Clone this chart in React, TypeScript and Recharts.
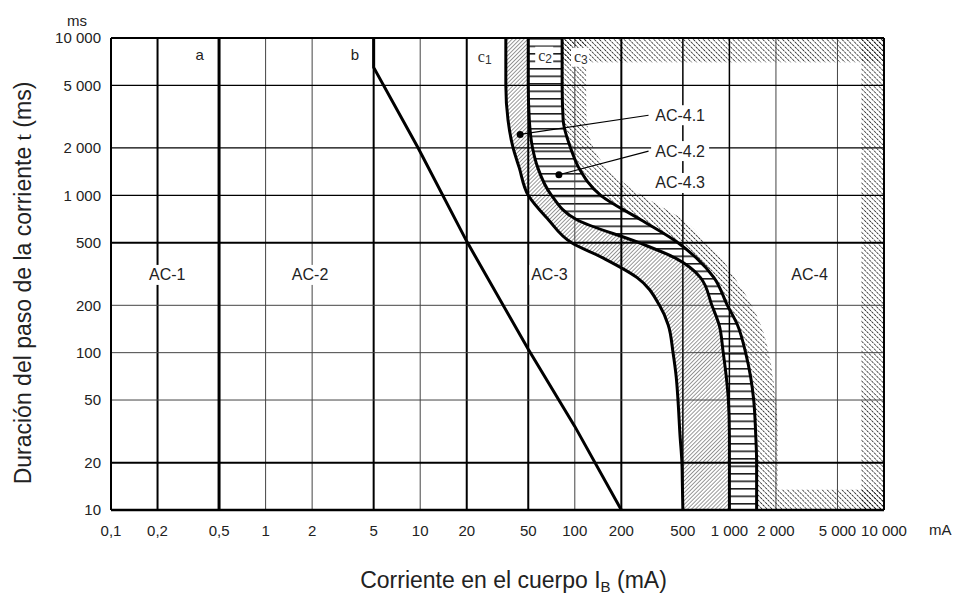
import React from "react";
import {
  ComposedChart,
  XAxis,
  YAxis,
  Line,
  Area,
  ReferenceLine,
  ReferenceArea,
  ReferenceDot,
} from "recharts";

const FONT = "'Liberation Sans', Arial, sans-serif";

// axis ticks (mA / ms)
const currentTicks = [0.1, 0.2, 0.5, 1, 2, 5, 10, 20, 50, 100, 200, 500, 1000, 2000, 5000, 10000];
const timeTicks = [10, 20, 50, 100, 200, 500, 1000, 2000, 5000, 10000];

// curves c1 / c2 / c3 read at these durations (ms)
const times = [10000, 7000, 5000, 3000, 2000, 1500, 1000, 700, 500, 400, 300, 200, 150, 100, 70, 50, 30, 20, 15, 10];
const c1Current = [35.8, 35.8, 35.8, 37, 39.9, 43.7, 50, 67.5, 95.4, 152, 253, 353, 402, 432, 453, 465, 479, 493, 496, 500];
const c2Current = [50, 50, 50, 50.8, 53.3, 57.6, 70.7, 103, 260, 445, 650, 770, 858, 912, 955, 985, 1000, 1000, 1000, 1000];
const c3Current = [82.8, 82.8, 82.8, 84.1, 93.9, 106, 147, 267, 465, 611, 794, 970, 1128, 1273, 1372, 1436, 1480, 1500, 1500, 1500];
// outer edge of the AC-4.3 hatching
const ac43Edge = [118.5, 118.5, 118.5, 120, 132, 161, 271, 500, 713, 884, 1078, 1393, 1595, 1800, 1912, 2000, 2058, 2058, 2058, 2058];

// line b
const bTime = [10000, 6500, 2000, 510, 105, 34, 10];
const bCurrent = [5, 5, 9.7, 20, 50, 100, 200];

// hatched frame of the AC-4 zone
const frameTopTime = 7000;
const frameRightCurrent = 7100;
const frameBottomTime = 13.5;

// zone names
const zoneNames = ["AC-1", "AC-2", "AC-3", "AC-4"];
const zoneCurrent = [0.231, 1.94, 68.5, 3300];
const zoneTime = 312;

// AC-4.x call-outs
const subNames = ["AC-4.1", "AC-4.2", "AC-4.3"];
const subTime = [3230, 1911, 1198];
const subCurrent = 480;
const lead41Time = [2440, 3230];
const lead41Current = [44.3, 300];
const lead42Time = [1352, 1911];
const lead42Current = [78.9, 300];

const curveRows = times.map((t, i) => ({
  t,
  c1: c1Current[i],
  c2: c2Current[i],
  c3: c3Current[i],
  edge: ac43Edge[i],
}));
const bRows = bTime.map((t, i) => ({ t, v: bCurrent[i] }));
const lead41Rows = lead41Time.map((t, i) => ({ t, v: lead41Current[i] }));
const lead42Rows = lead42Time.map((t, i) => ({ t, v: lead42Current[i] }));

const vWidth: Record<number, number> = { 0.2: 2, 1: 1, 2: 1, 5: 2, 10: 1, 20: 2, 50: 2, 100: 1, 200: 2, 500: 1.5, 1000: 1.5, 2000: 1, 5000: 1 };
const hWidth: Record<number, number> = { 20: 2, 50: 1, 100: 1, 200: 1, 500: 2, 1000: 1.3, 2000: 1.3, 5000: 1.3 };

const fmt = (v: number) =>
  v < 1 ? String(v).replace(".", ",") : String(v).replace(/\B(?=(\d{3})+(?!\d))/g, " ");

const Tag = ({ cx, cy, text }: any) => {
  const w = text.length * 9 + 4;
  return (
    <g>
      <rect x={cx - w / 2} y={cy - 10} width={w} height={20} fill="#fff" />
      <text x={cx} y={cy} textAnchor="middle" dominantBaseline="central" fontSize={16} fill="#222" fontFamily={FONT}>
        {text}
      </text>
    </g>
  );
};

const CLabel = ({ cx, cy, n, box }: any) => (
  <g>
    {box && <rect x={cx - 9} y={cy - 10} width={18} height={19} fill="#fff" />}
    <text x={cx - 6} y={cy + 4} fontSize={16} fill="#333">
      <tspan fontFamily="'Liberation Serif', serif">c</tspan>
      <tspan fontFamily={FONT} fontSize={12} dy={2}>{n}</tspan>
    </text>
  </g>
);

const YTitle = ({ viewBox }: any) => {
  const { x, y, height } = viewBox;
  return (
    <g fontFamily={FONT} fill="#222">
      <text x={x + 69} y={y - 18} textAnchor="middle" dominantBaseline="central" fontSize={15}>
        ms
      </text>
      <text
        transform={`translate(${x + 23}, ${y + height / 2 + 9}) rotate(-90)`}
        textAnchor="middle"
        fontSize={23}
      >
        Duración del paso de la corriente <tspan fontFamily="'Liberation Serif', serif">t</tspan> (ms)
      </text>
    </g>
  );
};

const XTitle = ({ viewBox }: any) => {
  const { x, y, width } = viewBox;
  return (
    <g fontFamily={FONT} fill="#222">
      <text x={x + width + 45} y={y + 25} fontSize={15}>
        mA
      </text>
      <text x={x + width / 2 + 16} y={y + 78} textAnchor="middle" fontSize={23}>
        Corriente en el cuerpo I
        <tspan fontSize={15} dy={4}>B</tspan>
        <tspan dy={-4}> (mA)</tspan>
      </text>
    </g>
  );
};

export default function App() {
  return (
    <div style={{ fontFamily: FONT }}>
      <ComposedChart
        width={944}
        height={587}
        layout="vertical"
        data={curveRows}
        margin={{ top: 30, right: 68, bottom: 55, left: 0 }}
      >
        <defs>
          <pattern id="hatchA" width="2.8" height="2.8" patternUnits="userSpaceOnUse" patternTransform="rotate(45)">
            <line x1="0" y1="0" x2="0" y2="2.8" stroke="#000" strokeWidth="0.8" />
          </pattern>
          <pattern id="hatchC" width="3.5" height="3.5" patternUnits="userSpaceOnUse" patternTransform="rotate(-45)">
            <line x1="0" y1="0" x2="0" y2="3.5" stroke="#000" strokeWidth="1.35" strokeDasharray="2 0.8" />
          </pattern>
          <pattern id="stripes" width="8" height="7.5" patternUnits="userSpaceOnUse">
            <line x1="0" y1="0.8" x2="8" y2="0.8" stroke="#000" strokeWidth="1.4" />
          </pattern>
        </defs>

        <XAxis
          type="number"
          scale="log"
          domain={[0.1, 10000]}
          allowDataOverflow
          ticks={currentTicks}
          tickFormatter={fmt}
          axisLine={false}
          tickLine={false}
          tickSize={0}
          tickMargin={15}
          height={30}
          tick={{ fontSize: 15, fill: "#222" }}
          label={<XTitle />}
        />
        <YAxis
          type="number"
          dataKey="t"
          scale="log"
          domain={[10, 10000]}
          reversed
          allowDataOverflow
          ticks={timeTicks}
          tickFormatter={fmt}
          axisLine={false}
          tickLine={false}
          tickSize={0}
          tickMargin={10}
          width={103}
          tick={{ fontSize: 15, fill: "#222" }}
          label={<YTitle />}
        />

        {currentTicks.slice(1, -1).map((v) => (
          <ReferenceLine key={"v" + v} x={v} stroke={vWidth[v] > 1 ? "#000" : "#444"} strokeWidth={vWidth[v]} />
        ))}
        {timeTicks.slice(1, -1).map((v) => (
          <ReferenceLine key={"h" + v} y={v} stroke={hWidth[v] > 1 ? "#000" : "#444"} strokeWidth={hWidth[v]} />
        ))}

        <ReferenceArea x1={c3Current[0]} x2={10000} y1={frameTopTime} y2={10000} fill="url(#hatchC)" fillOpacity={1} stroke="none" />
        <ReferenceArea x1={frameRightCurrent} x2={10000} y1={10} y2={10000} fill="url(#hatchC)" fillOpacity={1} stroke="none" />
        <ReferenceArea x1={ac43Edge[ac43Edge.length - 1]} x2={10000} y1={10} y2={frameBottomTime} fill="url(#hatchC)" fillOpacity={1} stroke="none" />

        <Area dataKey={(d: any) => [d.c1, d.c2]} type="monotone" fill="url(#hatchA)" fillOpacity={1} stroke="none" isAnimationActive={false} />
        <Area dataKey={(d: any) => [d.c2, d.c3]} type="monotone" fill="url(#stripes)" fillOpacity={1} stroke="none" isAnimationActive={false} />
        <Area dataKey={(d: any) => [d.c3, d.edge]} type="monotone" fill="url(#hatchC)" fillOpacity={1} stroke="none" isAnimationActive={false} />

        <ReferenceLine x={0.5} stroke="#000" strokeWidth={3} />
        <ReferenceLine x={0.1} stroke="#000" strokeWidth={2} />
        <ReferenceLine x={10000} stroke="#000" strokeWidth={2} />
        <ReferenceLine y={10} stroke="#000" strokeWidth={2.5} />
        <ReferenceLine y={10000} stroke="#000" strokeWidth={2} />

        <Line dataKey="c1" type="monotone" stroke="#000" strokeWidth={3} dot={false} activeDot={false} isAnimationActive={false} />
        <Line dataKey="c2" type="monotone" stroke="#000" strokeWidth={3} dot={false} activeDot={false} isAnimationActive={false} />
        <Line dataKey="c3" type="monotone" stroke="#000" strokeWidth={3} dot={false} activeDot={false} isAnimationActive={false} />
        <Line data={bRows} dataKey="v" type="linear" stroke="#000" strokeWidth={3} dot={false} activeDot={false} isAnimationActive={false} />
        <Line data={lead41Rows} dataKey="v" type="linear" stroke="#000" strokeWidth={1.2} dot={false} activeDot={false} isAnimationActive={false} />
        <Line data={lead42Rows} dataKey="v" type="linear" stroke="#000" strokeWidth={1.2} dot={false} activeDot={false} isAnimationActive={false} />

        <ReferenceDot x={lead41Current[0]} y={lead41Time[0]} r={3.5} fill="#000" stroke="none" />
        <ReferenceDot x={lead42Current[0]} y={lead42Time[0]} r={3.5} fill="#000" stroke="none" />

        {zoneNames.map((n, i) => (
          <ReferenceDot key={n} x={zoneCurrent[i]} y={zoneTime} r={0} shape={(p: any) => <Tag {...p} text={n} />} />
        ))}
        {subNames.map((n, i) => (
          <ReferenceDot key={n} x={subCurrent} y={subTime[i]} r={0} shape={(p: any) => <Tag {...p} text={n} />} />
        ))}

        <ReferenceDot x={0.374} y={7900} r={0} shape={(p: any) => <text x={p.cx} y={p.cy} textAnchor="middle" dominantBaseline="central" fontSize={15} fill="#222">a</text>} />
        <ReferenceDot x={3.78} y={7900} r={0} shape={(p: any) => <text x={p.cx} y={p.cy} textAnchor="middle" dominantBaseline="central" fontSize={15} fill="#222">b</text>} />
        <ReferenceDot x={25.8} y={7500} r={0} shape={(p: any) => <CLabel {...p} n="1" />} />
        <ReferenceDot x={63.4} y={7600} r={0} shape={(p: any) => <CLabel {...p} n="2" box />} />
        <ReferenceDot x={108} y={7500} r={0} shape={(p: any) => <CLabel {...p} n="3" box />} />
      </ComposedChart>
    </div>
  );
}
